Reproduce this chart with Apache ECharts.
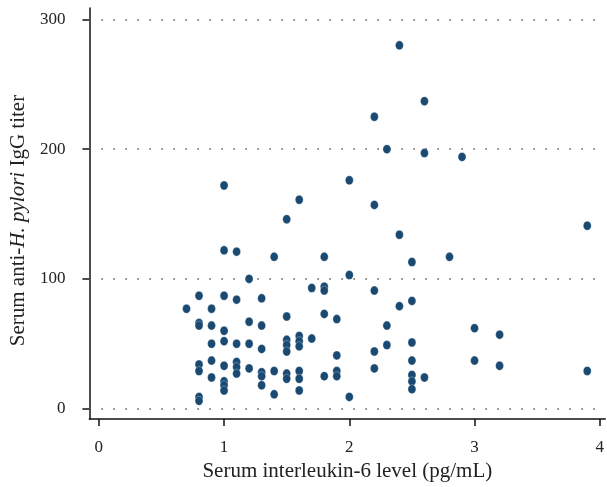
<!DOCTYPE html>
<html>
<head>
<meta charset="utf-8">
<script src="https://cdn.jsdelivr.net/npm/echarts@6/dist/echarts.min.js"></script>
<style>html,body{margin:0;padding:0;background:#fff}#c{width:607px;height:487px}</style>
</head>
<body>
<div id="c"></div>
<script>
// Serum IL-6 level (pg/mL) groups and anti-H. pylori IgG titers
var xGroups = [0.7, 0.8, 0.9, 1.0, 1.1, 1.2, 1.3, 1.4, 1.5, 1.6, 1.7, 1.8, 1.9, 2.0, 2.2, 2.3, 2.4, 2.5, 2.6, 2.8, 2.9, 3.0, 3.2, 3.9];
var titers = [
  [77],
  [87, 66, 64, 34, 29, 9, 6],
  [77, 64, 50, 37, 24],
  [172, 122, 87, 60, 52, 33, 21, 18, 14],
  [121, 84, 50, 36, 32, 27],
  [100, 67, 50, 31],
  [85, 64, 46, 28, 25, 18],
  [117, 29, 11],
  [146, 71, 53, 49, 44, 27, 23],
  [161, 56, 52, 48, 29, 23, 14],
  [93, 54],
  [117, 94, 91, 73, 25],
  [69, 41, 29, 25],
  [176, 103, 9],
  [225, 157, 91, 44, 31],
  [200, 64, 49],
  [280, 134, 79],
  [113, 83, 51, 37, 26, 21, 15],
  [237, 197, 24],
  [117],
  [194],
  [62, 37],
  [57, 33],
  [141, 29]
];
var xTicks = [0, 1, 2, 3, 4];
var yTicks = [0, 100, 200, 300];

var points = [];
xGroups.forEach(function (x, i) {
  titers[i].forEach(function (y) { points.push([x, y]); });
});

var FONT = "'Liberation Serif', 'DejaVu Serif', serif";
var chart = echarts.init(document.getElementById('c'), null, { renderer: 'canvas' });
chart.setOption({
  animation: false,
  backgroundColor: '#ffffff',
  grid: { left: 87, right: 1, top: 8, bottom: 67, containLabel: false },
  xAxis: {
    type: 'value',
    min: -0.0754,
    max: 4.044,
    name: 'Serum interleukin-6 level (pg/mL)',
    nameLocation: 'middle',
    nameGap: 40,
    nameTextStyle: { fontFamily: FONT, fontSize: 21, color: '#222' },
    axisLine: { show: true, onZero: false, lineStyle: { color: '#111', width: 1.5 } },
    axisTick: { show: true, length: 7, lineStyle: { color: '#111', width: 1.5 }, customValues: xTicks },
    axisLabel: { fontFamily: FONT, fontSize: 17, color: '#222', margin: 20, customValues: xTicks },
    splitLine: { show: false }
  },
  yAxis: {
    type: 'value',
    min: -8.08,
    max: 308.8,
    name: '{n|Serum anti-}{i|H. pylori}{n| IgG titer}',
    nameLocation: 'middle',
    nameGap: 60,
    nameRotate: 90,
    nameTextStyle: {
      fontFamily: FONT, fontSize: 21, color: '#222',
      padding: [0, 14, 0, 0],
      rich: {
        n: { fontFamily: FONT, fontSize: 21, color: '#222' },
        i: { fontFamily: FONT, fontSize: 21, color: '#222', fontStyle: 'italic' }
      }
    },
    axisLine: { show: true, onZero: false, lineStyle: { color: '#111', width: 1.5 } },
    axisTick: { show: true, length: 7, lineStyle: { color: '#111', width: 1.5 }, customValues: yTicks },
    axisLabel: { fontFamily: FONT, fontSize: 17, color: '#222', margin: 24, customValues: yTicks },
    splitLine: { show: false }
  },
  series: [{
    type: 'scatter',
    data: points,
    symbol: 'circle',
    symbolSize: [8, 9],
    itemStyle: { color: '#1a4a72', borderColor: 'rgba(255,255,255,0.6)', borderWidth: 0.5, opacity: 1 },
    z: 3,
    markLine: {
      silent: true,
      symbol: ['none', 'none'],
      label: { show: false },
      animation: false,
      lineStyle: { color: '#555', width: 1.5, type: [1.5, 10.5], dashOffset: 0 },
      data: yTicks.map(function (v) { return { yAxis: v }; })
    }
  }]
});
</script>
</body>
</html>
